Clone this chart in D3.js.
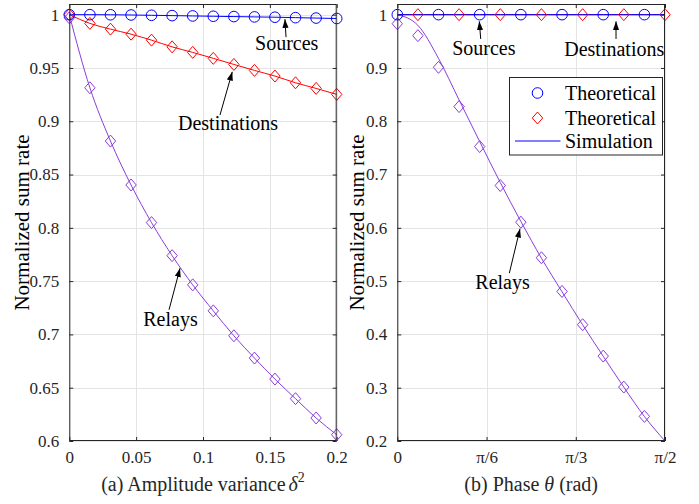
<!DOCTYPE html>
<html>
<head>
<meta charset="utf-8">
<script src="https://cdn.jsdelivr.net/npm/d3@7"></script>
<style>
  body { margin: 0; background: #fff; }
  svg { display: block; }
  text { font-family: "Liberation Serif", "Times New Roman", Times, serif; }
</style>
</head>
<body>
<svg id="chart" width="699" height="504"></svg>
<script>
// ---------- (a) amplitude variance sweep ----------
const ampVariance = [0, 0.0154, 0.0308, 0.0462, 0.0615, 0.0769, 0.0923, 0.1077, 0.1231, 0.1385, 0.1538, 0.1692, 0.1846, 0.2];
const ampSources = [1.0, 1.0, 0.9999, 0.9997, 0.9994, 0.9991, 0.9988, 0.9985, 0.9982, 0.9979, 0.9976, 0.9972, 0.9968, 0.9964];
const ampDestinations = [1.0, 0.9918, 0.9864, 0.9817, 0.9761, 0.9698, 0.9646, 0.9590, 0.9533, 0.9477, 0.9424, 0.9361, 0.9308, 0.9252];
const ampRelaysTheory = [0.997, 0.9314, 0.8814, 0.8402, 0.8049, 0.7739, 0.7465, 0.7221, 0.6987, 0.6778, 0.6581, 0.6397, 0.6216, 0.6059];
const ampRelaysSim = [1.0, 0.9314, 0.8814, 0.8402, 0.8049, 0.7739, 0.7465, 0.7221, 0.6987, 0.6778, 0.6581, 0.6397, 0.6216, 0.6059];
const ampXTicks = [0, 0.05, 0.1, 0.15, 0.2];
const ampXTickLabels = ["0", "0.05", "0.1", "0.15", "0.2"];
const ampYTicks = [0.6, 0.65, 0.7, 0.75, 0.8, 0.85, 0.9, 0.95, 1];
const ampYTickLabels = ["0.6", "0.65", "0.7", "0.75", "0.8", "0.85", "0.9", "0.95", "1"];

// ---------- (b) phase sweep ----------
const phase = [0, 0.1208, 0.2417, 0.3625, 0.4833, 0.6042, 0.7250, 0.8458, 0.9666, 1.0875, 1.2083, 1.3291, 1.4500, 1.5708];
const phaseSources = [1, 1, 1, 1, 1, 1, 1, 1, 1, 1, 1, 1, 1, 1];
const phaseDestinations = [1, 1, 1, 1, 1, 1, 1, 1, 1, 1, 1, 1, 1, 1];
const phaseRelaysTheory = [0.983, 0.9606, 0.9012, 0.8275, 0.7525, 0.6794, 0.6106, 0.5438, 0.4806, 0.4182, 0.3593, 0.3012, 0.2462, 0.19];
const phaseRelaysSim = [1.0, 0.980, 0.918, 0.840, 0.762, 0.685, 0.612, 0.543, 0.480, 0.418, 0.359, 0.301, 0.246, 0.20];
const phaseXTicks = [0, Math.PI / 6, Math.PI / 3, Math.PI / 2];
const phaseXTickLabels = ["0", "π/6", "π/3", "π/2"];
const phaseYTicks = [0.2, 0.3, 0.4, 0.5, 0.6, 0.7, 0.8, 0.9, 1];
const phaseYTickLabels = ["0.2", "0.3", "0.4", "0.5", "0.6", "0.7", "0.8", "0.9", "1"];

const legendLabels = ["Theoretical", "Theoretical", "Simulation"];

const BLUE = "#0000ff", RED = "#ff0000", PURPLE = "#8a3ddc", AXIS = "#262626", GRID = "#e4e4e4";

const svg = d3.select("#chart");

// arrowhead
svg.append("defs").append("marker")
  .attr("id", "arrowhead")
  .attr("viewBox", "0 -4 10 8")
  .attr("refX", 10).attr("refY", 0)
  .attr("markerWidth", 9).attr("markerHeight", 7)
  .attr("markerUnits", "userSpaceOnUse")
  .attr("orient", "auto")
  .append("path").attr("d", "M0,-3.5L10,0L0,3.5Z").attr("fill", "#000");

const diamondPath = "M0,-6L5.2,0L0,6L-5.2,0Z";

function drawPanel(cfg) {
  const x = d3.scaleLinear().domain(cfg.xDomain).range([cfg.left, cfg.right]);
  const y = d3.scaleLinear().domain(cfg.yDomain).range([cfg.bottom, cfg.top]);
  const g = svg.append("g");
  const clipId = "clip-" + cfg.id;
  g.append("clipPath").attr("id", clipId).append("rect")
    .attr("x", cfg.left).attr("y", cfg.top)
    .attr("width", cfg.right - cfg.left).attr("height", cfg.bottom - cfg.top);

  // grid
  const grid = g.append("g");
  grid.selectAll(".gx").data(cfg.xTicks).join("line")
    .attr("x1", d => Math.round(x(d)) + 0.5).attr("x2", d => Math.round(x(d)) + 0.5)
    .attr("y1", cfg.top).attr("y2", cfg.bottom)
    .attr("stroke", GRID).attr("stroke-width", 1);
  grid.selectAll(".gy").data(cfg.yTicks).join("line")
    .attr("y1", d => Math.round(y(d)) + 0.5).attr("y2", d => Math.round(y(d)) + 0.5)
    .attr("x1", cfg.left).attr("x2", cfg.right)
    .attr("stroke", GRID).attr("stroke-width", 1);

  // axes (ticks inward, box on all four sides)
  const tickLen = 4;
  const axB = d3.axisBottom(x).tickValues(cfg.xTicks).tickFormat((d, i) => cfg.xTickLabels[i])
    .tickSizeInner(-tickLen).tickSizeOuter(0).tickPadding(10);
  const axL = d3.axisLeft(y).tickValues(cfg.yTicks).tickFormat((d, i) => cfg.yTickLabels[i])
    .tickSizeInner(-tickLen).tickSizeOuter(0).tickPadding(10);
  const axT = d3.axisTop(x).tickValues(cfg.xTicks).tickFormat("").tickSizeInner(-tickLen).tickSizeOuter(0);
  const axR = d3.axisRight(y).tickValues(cfg.yTicks).tickFormat("").tickSizeInner(-tickLen).tickSizeOuter(0);

  const styleAxis = sel => {
    sel.select(".domain").remove();
    sel.selectAll("line").attr("stroke", AXIS);
    sel.selectAll("text").attr("fill", AXIS).style("font-size", "17px")
      .style("font-family", "'Liberation Serif', 'Times New Roman', serif");
  };
  g.append("g").attr("transform", `translate(0,${cfg.bottom})`).call(axB).call(styleAxis);
  g.append("g").attr("transform", `translate(${cfg.left},0)`).call(axL).call(styleAxis);
  g.append("g").attr("transform", `translate(0,${cfg.top})`).call(axT).call(styleAxis);
  g.append("g").attr("transform", `translate(${cfg.right},0)`).call(axR).call(styleAxis);

  // series
  const plot = g.append("g").attr("clip-path", `url(#${clipId})`);
  cfg.lines.forEach(s => {
    const line = d3.line().x((d, i) => x(cfg.xs[i])).y(d => y(d)).curve(d3.curveMonotoneX);
    plot.append("path").datum(s.values).attr("d", line)
      .attr("fill", "none").attr("stroke", s.color).attr("stroke-width", 1);
  });
  const mk = g.append("g");
  cfg.markers.forEach(s => {
    const pts = s.values.map((v, i) => ({ x: cfg.xs[i], y: v, i }))
      .filter(p => (!s.every || p.i % 2 === s.offset) && p.y >= cfg.yDomain[0] && p.y <= cfg.yDomain[1]);
    if (s.shape === "circle") {
      mk.selectAll(null).data(pts).join("circle")
        .attr("cx", p => x(p.x)).attr("cy", p => y(p.y)).attr("r", 5.3)
        .attr("fill", "none").attr("stroke", s.color).attr("stroke-width", 1);
    } else {
      mk.selectAll(null).data(pts).join("path")
        .attr("transform", p => `translate(${x(p.x)},${y(p.y)})`).attr("d", diamondPath)
        .attr("fill", "none").attr("stroke", s.color).attr("stroke-width", 1);
    }
  });

  // box
  g.append("rect").attr("x", cfg.left + 0.5).attr("y", cfg.top + 0.5)
    .attr("width", cfg.right - cfg.left - 1).attr("height", cfg.bottom - cfg.top - 1)
    .attr("fill", "none").attr("stroke", AXIS).attr("stroke-width", 1);

  // annotations
  cfg.notes.forEach(n => {
    g.append("line")
      .attr("x1", x(n.tail[0])).attr("y1", y(n.tail[1]))
      .attr("x2", x(n.tip[0])).attr("y2", y(n.tip[1]))
      .attr("stroke", "#000").attr("stroke-width", 1)
      .attr("marker-end", "url(#arrowhead)");
    g.append("text").attr("x", x(n.at[0])).attr("y", y(n.at[1]))
      .attr("text-anchor", "middle").style("font-size", "20px").attr("fill", "#000")
      .text(n.text);
  });

  // y title
  g.append("text")
    .attr("transform", `translate(${cfg.yTitleX},${(cfg.top + cfg.bottom) / 2}) rotate(-90)`)
    .attr("text-anchor", "middle").style("font-size", "21px").attr("fill", "#000")
    .text("Normalized sum rate");

  // x title
  const xt = g.append("text").attr("x", (cfg.left + cfg.right) / 2).attr("y", 491)
    .attr("text-anchor", "middle").style("font-size", "20px").attr("fill", AXIS);
  cfg.xTitle(xt);

  return { x, y, g };
}

drawPanel({
  id: "amp", left: 69.3, right: 336.7, top: 4, bottom: 441,
  xDomain: [0, 0.2], yDomain: [0.6, 1.01],
  xTicks: ampXTicks, xTickLabels: ampXTickLabels,
  yTicks: ampYTicks, yTickLabels: ampYTickLabels,
  xs: ampVariance,
  lines: [
    { values: ampRelaysSim, color: PURPLE },
    { values: ampDestinations, color: RED },
    { values: ampSources, color: BLUE }
  ],
  markers: [
    { values: ampRelaysTheory, color: PURPLE, shape: "diamond" },
    { values: ampDestinations, color: RED, shape: "diamond" },
    { values: ampSources, color: BLUE, shape: "circle" }
  ],
  notes: [
    { text: "Sources", at: [0.1626, 0.9667], tail: [0.1621, 0.9789], tip: [0.1613, 0.9958] },
    { text: "Destinations", at: [0.1187, 0.8918], tail: [0.1127, 0.9058], tip: [0.1219, 0.9464] },
    { text: "Relays", at: [0.0757, 0.7081], tail: [0.0746, 0.7231], tip: [0.0828, 0.7621] }
  ],
  yTitleX: 29,
  xTitle: t => {
    t.append("tspan").text("(a) Amplitude variance");
    t.append("tspan").attr("dx", 3).style("font-style", "italic").text("δ");
    t.append("tspan").attr("dy", -9).style("font-size", "14px").text("2");
  }
});

const phasePanel = drawPanel({
  id: "phase", left: 397.3, right: 665, top: 4, bottom: 441,
  xDomain: [0, Math.PI / 2], yDomain: [0.2, 1.02],
  xTicks: phaseXTicks, xTickLabels: phaseXTickLabels,
  yTicks: phaseYTicks, yTickLabels: phaseYTickLabels,
  xs: phase,
  lines: [
    { values: phaseRelaysSim, color: PURPLE },
    { values: phaseDestinations, color: RED },
    { values: phaseSources, color: BLUE }
  ],
  markers: [
    { values: phaseRelaysTheory, color: PURPLE, shape: "diamond" },
    { values: phaseDestinations, color: RED, shape: "diamond", every: true, offset: 1 },
    { values: phaseSources, color: BLUE, shape: "circle", every: true, offset: 0 }
  ],
  notes: [
    { text: "Sources", at: [0.508, 0.925], tail: [0.4894, 0.9544], tip: [0.4812, 0.9874] },
    { text: "Destinations", at: [1.273, 0.9218], tail: [1.2834, 0.9544], tip: [1.2834, 0.9874] },
    { text: "Relays", at: [0.6174, 0.4857], tail: [0.6573, 0.5149], tip: [0.72, 0.5982] }
  ],
  yTitleX: 364,
  xTitle: t => {
    t.append("tspan").text("(b) Phase ");
    t.append("tspan").style("font-style", "italic").text("θ");
    t.append("tspan").text(" (rad)");
  }
});

// legend
const lg = svg.append("g").attr("transform", "translate(509.5,77.5)");
lg.append("rect").attr("width", 153).attr("height", 77.5)
  .attr("fill", "#fff").attr("stroke", AXIS).attr("stroke-width", 1);
const rowsY = [15.5, 40.5, 63.5];
lg.append("circle").attr("cx", 28).attr("cy", rowsY[0]).attr("r", 5.3)
  .attr("fill", "none").attr("stroke", BLUE);
lg.append("path").attr("transform", `translate(28,${rowsY[1]})`).attr("d", diamondPath)
  .attr("fill", "none").attr("stroke", RED);
lg.append("line").attr("x1", 5.5).attr("x2", 51).attr("y1", rowsY[2]).attr("y2", rowsY[2])
  .attr("stroke", BLUE).attr("stroke-width", 1);
legendLabels.forEach((l, i) => {
  lg.append("text").attr("x", 55.5).attr("y", rowsY[i]).attr("dy", "0.35em")
    .style("font-size", "20px").attr("fill", "#000").text(l);
});
</script>
</body>
</html>
